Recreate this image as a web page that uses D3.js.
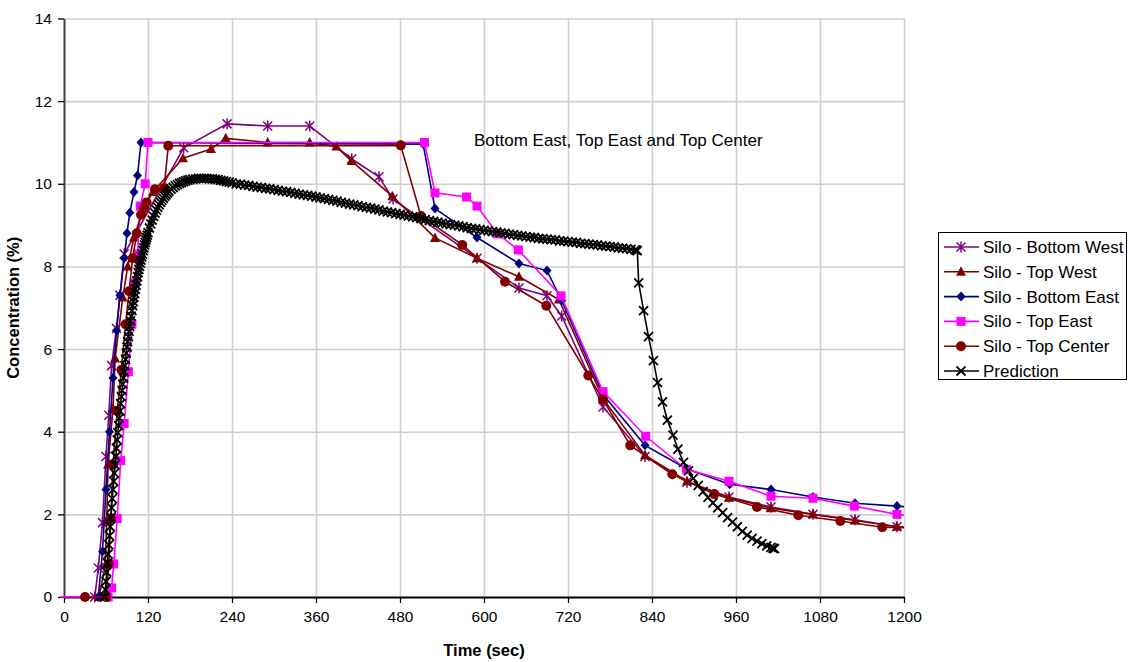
<!DOCTYPE html>
<html>
<head>
<meta charset="utf-8">
<script src="https://cdn.jsdelivr.net/npm/d3@7"></script>
<style>
  body { margin: 0; background: #fff; }
  text { font-family: Arial, "Liberation Sans", sans-serif; }
</style>
</head>
<body>
<div id="chart"></div>
<script>
// series data: [time (sec), concentration (%)]
const bottomWest = [[44,0],[49,0.7],[55,1.8],[60,3.4],[64,4.4],[68,5.6],[75,6.5],[80,7.3],[86,8.3],[171,10.87],[233,11.45],[291,11.4],[351,11.4],[411,10.6],[450,10.17],[470,9.63],[590,8.2],[650,7.48],[690,7.29],[711,6.8],[770,4.6],[830,3.4],[890,2.78],[950,2.42],[1010,2.18],[1070,2.0],[1130,1.87],[1190,1.7],[1250,1.65]];
const topWest = [[50,0],[59,0.77],[61,1.86],[63,3.2],[70,4.56],[73,5.77],[84,7.25],[91,8.0],[100,8.7],[115,9.5],[127,9.8],[170,10.62],[210,10.84],[231,11.1],[291,11.0],[351,11.0],[389,10.9],[411,10.55],[469,9.7],[530,8.69],[590,8.2],[650,7.75],[707,7.2],[770,4.8],[830,3.43],[890,2.8],[950,2.4],[1010,2.15],[1070,2.0],[1130,1.85],[1190,1.7],[1250,1.65]];
const bottomEast = [[49,0],[55,1.1],[60,2.6],[65,4.0],[70,5.3],[75,6.45],[80,7.3],[86,8.2],[90,8.8],[94,9.3],[100,9.8],[105,10.2],[110,11.0],[513,10.96],[530,9.4],[590,8.7],[650,8.07],[690,7.9],[711,7.17],[770,4.9],[830,3.67],[890,3.1],[951,2.73],[1010,2.6],[1070,2.42],[1130,2.27],[1190,2.2],[1250,2.13]];
const topEast = [[-6,0],[63,0],[68,0.22],[71,0.8],[76,1.9],[81,3.3],[86,4.2],[92,5.45],[97,6.6],[101,7.6],[105,8.3],[109,9.46],[116,10.0],[120,11.0],[515,11.0],[530,9.78],[575,9.68],[590,9.46],[619,8.79],[649,8.4],[710,7.29],[770,4.97],[831,3.89],[889,3.09],[950,2.8],[1010,2.44],[1070,2.39],[1129,2.2],[1190,2.0],[1250,1.9]];
const topCenter = [[30,0],[60,0],[64,0.8],[67,1.9],[70,3.2],[76,4.5],[82,5.5],[88,6.6],[93,7.4],[98,8.2],[104,8.8],[110,9.25],[114,9.4],[118,9.55],[130,9.87],[143,9.9],[149,10.92],[481,10.93],[510,9.22],[569,8.52],[630,7.63],[689,7.05],[749,5.36],[770,4.78],[809,3.67],[869,2.97],[929,2.49],[990,2.18],[1049,1.98],[1109,1.84],[1169,1.69],[1250,1.65]];

const predTime = [58,59,60,61,62,63,64,65,66,67,68,69,70,71,72,73,74,75,76,77,78,79,80,81,82,83,84,85,86,87,88,89,90,
  91,92,93,94,95,96,97,98,99,100,101,102,103,104,105,106,107,108,109,110,111,112,113,114,115,116,117,118,119,120,
  122,124,126,128,130,132,134,136,138,140,142,144,146,148,150,153,156,159,162,165,168,171,174,177,180,184,188,192,196,200,204,208,212,216,220,224,228,232,236,240,
  246,252,258,264,270,276,282,288,294,300,306,312,318,324,330,336,342,348,354,360,366,372,378,384,390,396,402,408,414,420,426,432,438,444,450,456,462,468,474,480,
  486,492,498,504,510,516,522,528,534,540,546,552,558,564,570,576,582,588,594,600,606,612,618,624,630,636,642,648,654,660,666,672,678,684,690,696,702,708,714,720,
  726,732,738,744,750,756,762,768,774,780,786,792,798,804,810,816,818,819,
  821,828,835,842,848,855,862,870,877,885,892,899,906,913,920,927,934,941,948,955,962,969,976,983,990,997,1004,1010,1013,1015];
const predValue = [0,0.18,0.38,0.6,0.82,1.04,1.26,1.48,1.7,1.93,2.16,2.38,2.6,2.8,3.0,3.2,3.4,3.6,3.8,3.98,4.15,4.33,4.5,4.68,4.85,5.0,5.15,5.3,5.45,5.6,5.75,5.9,6.05,
  6.18,6.3,6.43,6.55,6.68,6.8,6.93,7.05,7.15,7.25,7.35,7.45,7.55,7.65,7.75,7.85,7.93,8.0,8.08,8.15,8.23,8.3,8.38,8.45,8.52,8.58,8.64,8.7,8.76,8.82,
  8.93,9.03,9.12,9.21,9.29,9.36,9.43,9.49,9.55,9.6,9.65,9.7,9.74,9.78,9.82,9.87,9.91,9.95,9.98,10.01,10.03,10.05,10.07,10.09,10.1,10.11,10.12,10.13,10.13,10.13,10.13,10.12,10.12,10.11,10.1,10.08,10.07,10.05,10.04,10.02,
  10.0,9.99,9.97,9.96,9.94,9.92,9.91,9.89,9.88,9.86,9.84,9.82,9.81,9.79,9.77,9.75,9.73,9.72,9.7,9.68,9.66,9.64,9.62,9.6,9.58,9.55,9.53,9.51,9.49,9.47,9.45,9.43,9.41,9.39,9.37,9.34,9.32,9.3,9.28,9.26,
  9.24,9.22,9.2,9.18,9.16,9.13,9.11,9.09,9.07,9.05,9.03,9.01,9.0,8.98,8.96,8.94,8.92,8.91,8.89,8.87,8.86,8.84,8.83,8.81,8.8,8.78,8.77,8.75,8.74,8.72,8.71,8.7,8.68,8.67,8.66,8.65,8.64,8.62,8.61,8.6,
  8.59,8.58,8.56,8.55,8.54,8.53,8.52,8.5,8.49,8.48,8.47,8.45,8.44,8.43,8.41,8.4,8.39,8.38,
  7.6,6.93,6.3,5.72,5.19,4.72,4.28,3.92,3.58,3.26,3.05,2.87,2.7,2.55,2.41,2.28,2.16,2.04,1.92,1.81,1.7,1.59,1.5,1.42,1.35,1.29,1.24,1.2,1.18,1.17];
const prediction = predTime.map((t, i) => [t, predValue[i]]);

const xTicks = d3.range(0, 1201, 120);
const yTicks = d3.range(0, 15, 2);

const series = [
  { name: 'Silo - Bottom West', data: bottomWest, color: '#800080', marker: 'star' },
  { name: 'Silo - Top West', data: topWest, color: '#800000', marker: 'triangle' },
  { name: 'Silo - Bottom East', data: bottomEast, color: '#000080', marker: 'diamond' },
  { name: 'Silo - Top East', data: topEast, color: '#ff00ff', marker: 'square' },
  { name: 'Silo - Top Center', data: topCenter, color: '#800000', marker: 'circle' },
  { name: 'Prediction', data: prediction, color: '#000000', marker: 'cross' },
];

const width = 1128;
const height = 662;
const plot = { left: 64, right: 904, top: 18.5, bottom: 597 };

const svg = d3.select('#chart').append('svg')
  .attr('width', width).attr('height', height);

const x = d3.scaleLinear().domain([0, 1200]).range([plot.left, plot.right]);
const y = d3.scaleLinear().domain([0, 14]).range([plot.bottom, plot.top]);

// gridlines
svg.append('g')
  .attr('transform', `translate(0,${plot.bottom})`)
  .call(d3.axisBottom(x).tickValues(xTicks.slice(1)).tickSize(-(plot.bottom - plot.top)).tickFormat(''))
  .call(g => g.select('.domain').remove())
  .call(g => g.selectAll('line').attr('stroke', '#cfcfcf').attr('stroke-width', 1.6));
svg.append('g')
  .attr('transform', `translate(${plot.left},0)`)
  .call(d3.axisLeft(y).tickValues(yTicks.slice(1)).tickSize(-(plot.right - plot.left)).tickFormat(''))
  .call(g => g.select('.domain').remove())
  .call(g => g.selectAll('line').attr('stroke', '#cfcfcf').attr('stroke-width', 1.6));

// axes
svg.append('g')
  .attr('transform', `translate(0,${plot.bottom})`)
  .call(d3.axisBottom(x).tickValues(xTicks).tickFormat(d3.format('d')).tickSize(6).tickPadding(8).tickSizeOuter(0))
  .call(g => g.select('.domain').attr('stroke', '#000').attr('stroke-width', 2))
  .call(g => g.selectAll('line').attr('stroke', '#000').attr('stroke-width', 1.3))
  .call(g => g.selectAll('text').attr('font-size', 15.5).attr('fill', '#000')
    .attr('font-family', 'Arial, "Liberation Sans", sans-serif'));
svg.append('g')
  .attr('transform', `translate(${plot.left},0)`)
  .call(d3.axisLeft(y).tickValues(yTicks).tickSize(6).tickPadding(6).tickSizeOuter(0))
  .call(g => g.select('.domain').attr('stroke', '#404040').attr('stroke-width', 2))
  .call(g => g.selectAll('line').attr('stroke', '#000').attr('stroke-width', 1.3))
  .call(g => g.selectAll('text').attr('font-size', 15.5).attr('fill', '#000')
    .attr('font-family', 'Arial, "Liberation Sans", sans-serif'));

// axis titles
svg.append('text')
  .attr('x', (plot.left + plot.right) / 2).attr('y', 656)
  .attr('text-anchor', 'middle').attr('font-size', 16.5).attr('font-weight', 'bold')
  .text('Time (sec)');
svg.append('text')
  .attr('transform', `translate(19,${(plot.top + plot.bottom) / 2}) rotate(-90)`)
  .attr('text-anchor', 'middle').attr('font-size', 16.5).attr('font-weight', 'bold')
  .text('Concentration (%)');

svg.append('text')
  .attr('x', 474).attr('y', 146)
  .attr('font-size', 17)
  .text('Bottom East, Top East and Top Center');

// markers
function drawMarker(g, type, color) {
  if (type === 'star') {
    g.append('path').attr('d', 'M-4.5,-4.5L4.5,4.5M-4.5,4.5L4.5,-4.5M0,-5.5L0,5.5')
      .attr('stroke', color).attr('stroke-width', 1.5).attr('fill', 'none');
  } else if (type === 'cross') {
    g.append('path').attr('d', 'M-4.5,-4.5L4.5,4.5M-4.5,4.5L4.5,-4.5')
      .attr('stroke', color).attr('stroke-width', 1.8).attr('fill', 'none');
  } else if (type === 'triangle') {
    g.append('path').attr('d', 'M0,-5.5L5,4L-5,4Z').attr('fill', color);
  } else if (type === 'diamond') {
    g.append('path').attr('d', 'M0,-5L4.5,0L0,5L-4.5,0Z').attr('fill', color);
  } else if (type === 'square') {
    g.append('rect').attr('x', -4.5).attr('y', -4.5).attr('width', 9).attr('height', 9).attr('fill', color);
  } else if (type === 'circle') {
    g.append('circle').attr('r', 5).attr('fill', color);
  }
}

svg.append('clipPath').attr('id', 'clip')
  .append('rect').attr('x', plot.left - 4).attr('y', 0)
  .attr('width', plot.right - plot.left + 4).attr('height', height);

const line = d3.line().x(d => x(d[0])).y(d => y(d[1]));
const layer = svg.append('g').attr('clip-path', 'url(#clip)');

series.forEach(s => {
  const g = layer.append('g');
  g.append('path').datum(s.data).attr('d', line)
    .attr('fill', 'none').attr('stroke', s.color).attr('stroke-width', 1.6);
  g.selectAll('g.m').data(s.data.filter(d => d[0] >= 0 && d[0] <= 1200)).join('g')
    .attr('class', 'm')
    .attr('transform', d => `translate(${x(d[0])},${y(d[1])})`)
    .each(function () { drawMarker(d3.select(this), s.marker, s.color); });
});

// legend
const legend = svg.append('g');
legend.append('rect').attr('x', 938.5).attr('y', 232.5).attr('width', 188).attr('height', 147)
  .attr('fill', '#fff').attr('stroke', '#000').attr('stroke-width', 1);
series.forEach((s, i) => {
  const cy = 247 + i * 24.8;
  legend.append('line').attr('x1', 944).attr('x2', 979).attr('y1', cy).attr('y2', cy)
    .attr('stroke', s.color).attr('stroke-width', 1.6);
  drawMarker(legend.append('g').attr('transform', `translate(961,${cy})`), s.marker, s.color);
  legend.append('text').attr('x', 983).attr('y', cy + 6).attr('font-size', 17).text(s.name);
});
</script>
</body>
</html>
